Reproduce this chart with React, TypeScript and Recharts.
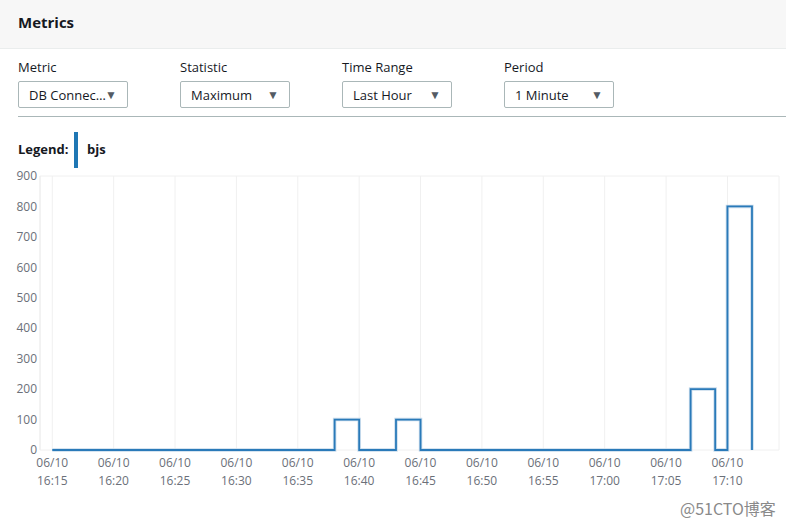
import React from "react";
import { LineChart, Line, XAxis, YAxis, CartesianGrid } from "recharts";

const dateLabel = "06/10";
const stepTimes = ["16:15", "16:38", "16:40", "16:43", "16:45", "17:07", "17:09", "17:10", "17:12"];
const stepValues = [0, 100, 0, 100, 0, 200, 0, 800, 0];
const xTickLabels = ["16:15", "16:20", "16:25", "16:30", "16:35", "16:40", "16:45", "16:50", "16:55", "17:00", "17:05", "17:10"];
const yTicks = [0, 100, 200, 300, 400, 500, 600, 700, 800, 900];
const seriesName = "bjs";
const domainStart = "16:14";
const domainEnd = "17:14";

const toMin = (s: string) => {
  const [h, m] = s.split(":").map(Number);
  return h * 60 + m;
};
const data = stepTimes.map((t, i) => ({ t: toMin(t), v: stepValues[i] }));
const xTicks = xTickLabels.map(toMin);
const fmt = (m: number) => {
  const h = Math.floor(m / 60);
  const mm = m % 60;
  return `${h}:${mm < 10 ? "0" : ""}${mm}`;
};

const FONT = "'Open Sans', 'Noto Sans', sans-serif";
const BLUE = "#2a7ab9";

const XTick = (props: any) => {
  const { x, y, payload } = props;
  return (
    <text x={x} y={y} textAnchor="middle" fill="#6b7079" fontSize={12} fontFamily={FONT}>
      <tspan x={x} dy="0.71em">{dateLabel}</tspan>
      <tspan x={x} dy={18}>{fmt(payload.value)}</tspan>
    </text>
  );
};

const Dropdown = ({ left, label, value }: { left: number; label: string; value: string }) => (
  <>
    <div style={{ position: "absolute", left, top: 58, fontSize: 13, color: "#16191f" }}>{label}</div>
    <div
      style={{
        position: "absolute",
        left,
        top: 81,
        width: 108,
        height: 25,
        border: "1px solid #aab7b8",
        borderRadius: 2,
        boxSizing: "content-box",
        fontSize: 13,
        color: "#16191f",
      }}
    >
      <span style={{ position: "absolute", left: 10, top: 4 }}>{value}</span>
      <span style={{ position: "absolute", right: 10, top: 4, fontSize: 12, color: "#545b64" }}>▼</span>
    </div>
  </>
);

export default function App() {
  return (
    <div
      style={{
        position: "absolute",
        left: 0,
        top: 0,
        width: 786,
        height: 527,
        background: "#fff",
        fontFamily: FONT,
        overflow: "hidden",
      }}
    >
      <div
        style={{
          position: "absolute",
          left: 0,
          top: 0,
          width: 786,
          height: 48,
          background: "#f7f7f7",
          borderBottom: "1px solid #eaeded",
        }}
      >
        <div style={{ position: "absolute", left: 18, top: 12, fontSize: 15, fontWeight: 700, color: "#16191f" }}>
          Metrics
        </div>
      </div>
      <Dropdown left={18} label="Metric" value="DB Connec…" />
      <Dropdown left={180} label="Statistic" value="Maximum" />
      <Dropdown left={342} label="Time Range" value="Last Hour" />
      <Dropdown left={504} label="Period" value="1 Minute" />
      <div style={{ position: "absolute", left: 18, top: 116, width: 768, height: 0, borderTop: "1px solid #aab7b8" }} />
      <div style={{ position: "absolute", left: 18, top: 140, fontSize: 13, fontWeight: 700, color: "#16191f" }}>
        Legend:
      </div>
      <div style={{ position: "absolute", left: 74, top: 132, width: 4, height: 36, background: "#1f77b4" }} />
      <div style={{ position: "absolute", left: 87, top: 140, fontSize: 13, fontWeight: 700, color: "#16191f" }}>
        {seriesName}
      </div>
      <div style={{ position: "absolute", left: 0, top: 166 }}>
        <LineChart width={786} height={324} data={data} margin={{ top: 10, right: 7, left: 0, bottom: 0 }}>
          <CartesianGrid stroke="#f0f0f0" strokeWidth={1} />
          <XAxis
            dataKey="t"
            type="number"
            domain={[toMin(domainStart), toMin(domainEnd) + 0.2]}
            ticks={xTicks}
            tick={<XTick />}
            tickLine={false}
            axisLine={false}
            height={40}
            interval={0}
          />
          <YAxis
            yAxisId="l"
            domain={[0, 900]}
            ticks={yTicks}
            width={40}
            tickLine={false}
            tickSize={0}
            tickMargin={3}
            axisLine={{ stroke: "#eeeeee" }}
            tick={{ fill: "#6b7079", fontSize: 12, fontFamily: FONT }}
            interval={0}
          />
          <YAxis
            yAxisId="r"
            orientation="right"
            domain={[0, 900]}
            width={0}
            tick={false}
            tickLine={false}
            axisLine={{ stroke: "#eeeeee" }}
          />
          <Line
            yAxisId="l"
            type="stepAfter"
            dataKey="v"
            stroke="#c9dcec"
            strokeWidth={3.5}
            dot={false}
            isAnimationActive={false}
          />
          <Line
            yAxisId="l"
            type="stepAfter"
            dataKey="v"
            stroke={BLUE}
            strokeWidth={1.8}
            dot={false}
            isAnimationActive={false}
          />
        </LineChart>
      </div>
      <div
        style={{
          position: "absolute",
          left: 680,
          top: 496,
          fontSize: 16,
          color: "#8a8a8a",
          fontFamily: "'Noto Sans CJK SC', sans-serif",
        }}
      >
        @51CTO博客
      </div>
    </div>
  );
}
